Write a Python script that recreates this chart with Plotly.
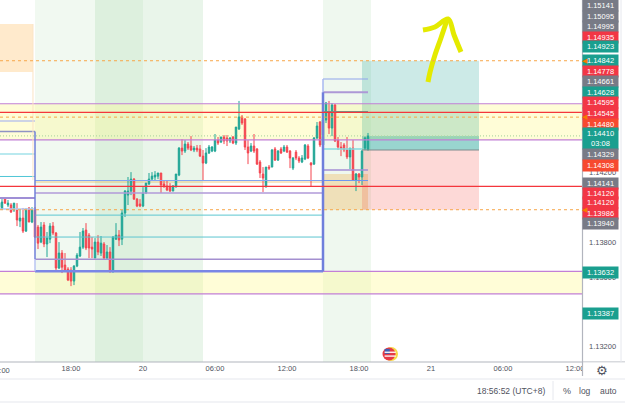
import plotly.graph_objects as go

# 15-minute bars; hours are counted from 00:00 on the 19th
bar_hours = [12 + 0.25 * i for i in range(124)]
opens = [1.14001,1.13990,1.14053,1.14013,1.14013,1.13984,1.13984,1.13921,1.13938,1.13863,1.13996,1.13915,1.13984,1.13886,1.13800,1.13898,1.13789,1.13817,1.13892,1.13852,
1.13651,1.13737,1.13668,1.13645,1.13639,1.13576,1.13662,1.13720,1.13771,1.13869,1.13840,1.13771,1.13708,1.13800,1.13737,1.13789,1.13708,1.13743,1.13628,1.13817,
1.13840,1.13817,1.13967,1.14070,1.14093,1.14162,1.14047,1.14019,1.14007,1.14082,1.14134,1.14162,1.14174,1.14179,1.14197,1.14134,1.14122,1.14116,1.14093,1.14116,
1.14185,1.14340,1.14323,1.14363,1.14352,1.14329,1.14340,1.14335,1.14294,1.14254,1.14312,1.14323,1.14323,1.14386,1.14375,1.14404,1.14398,1.14381,1.14404,1.14369,
1.14450,1.14519,1.14507,1.14346,1.14323,1.14352,1.14335,1.14260,1.14191,1.14116,1.14231,1.14231,1.14335,1.14271,1.14335,1.14323,1.14346,1.14323,1.14225,1.14317,
1.14283,1.14260,1.14277,1.14352,1.14254,1.14248,1.14398,1.14490,1.14358,1.14501,1.14547,1.14455,1.14588,1.14386,1.14346,1.14358,1.14329,1.14289,1.14340,1.14156,
1.14191,1.14174,1.14340,1.14329]
highs = [1.14042,1.14047,1.14059,1.14042,1.14024,1.14024,1.14024,1.13984,1.13996,1.13996,1.14001,1.14001,1.14001,1.13898,1.13915,1.13915,1.13858,1.13909,1.13915,1.13858,
1.13800,1.13754,1.13737,1.13656,1.13656,1.13668,1.13737,1.13858,1.13881,1.13909,1.13852,1.13829,1.13823,1.13840,1.13835,1.13800,1.13783,1.13771,1.13835,1.13909,
1.13869,1.13984,1.14099,1.14174,1.14202,1.14168,1.14053,1.14047,1.14116,1.14139,1.14197,1.14202,1.14208,1.14197,1.14197,1.14156,1.14151,1.14139,1.14128,1.14191,
1.14346,1.14392,1.14386,1.14375,1.14409,1.14352,1.14358,1.14358,1.14329,1.14340,1.14358,1.14352,1.14421,1.14404,1.14404,1.14415,1.14415,1.14404,1.14409,1.14461,
1.14611,1.14530,1.14513,1.14386,1.14369,1.14421,1.14340,1.14271,1.14231,1.14231,1.14243,1.14335,1.14346,1.14329,1.14346,1.14358,1.14358,1.14329,1.14289,1.14329,
1.14294,1.14300,1.14363,1.14363,1.14260,1.14404,1.14490,1.14496,1.14507,1.14605,1.14611,1.14599,1.14593,1.14404,1.14375,1.14369,1.14404,1.14340,1.14386,1.14197,
1.14197,1.14329,1.14404,1.14427]
lows = [1.13996,1.13984,1.14019,1.14001,1.13967,1.13973,1.13892,1.13886,1.13852,1.13858,1.13915,1.13909,1.13823,1.13760,1.13794,1.13771,1.13714,1.13794,1.13840,1.13639,
1.13645,1.13622,1.13628,1.13576,1.13547,1.13553,1.13656,1.13714,1.13760,1.13754,1.13708,1.13708,1.13708,1.13725,1.13720,1.13702,1.13702,1.13628,1.13628,1.13812,
1.13777,1.13783,1.13944,1.14013,1.14070,1.14042,1.14001,1.14001,1.14001,1.14076,1.14128,1.14151,1.14156,1.14162,1.14082,1.14111,1.14093,1.14088,1.14093,1.14116,
1.14179,1.14300,1.14312,1.14329,1.14323,1.14317,1.14317,1.14289,1.14156,1.14248,1.14306,1.14317,1.14317,1.14358,1.14369,1.14363,1.14352,1.14369,1.14363,1.14358,
1.14444,1.14473,1.14329,1.14248,1.14317,1.14312,1.14243,1.14168,1.14088,1.14116,1.14214,1.14231,1.14266,1.14266,1.14306,1.14317,1.14312,1.14225,1.14214,1.14271,
1.14254,1.14254,1.14271,1.14277,1.14122,1.14243,1.14392,1.14346,1.14352,1.14484,1.14421,1.14409,1.14375,1.14329,1.14294,1.14317,1.14277,1.14220,1.14156,1.14093,
1.14139,1.14128,1.14329,1.14329]
closes = [1.14024,1.14030,1.14024,1.14024,1.13973,1.14024,1.13927,1.13938,1.13863,1.13984,1.13915,1.13984,1.13829,1.13794,1.13886,1.13789,1.13823,1.13892,1.13852,1.13651,
1.13737,1.13656,1.13633,1.13582,1.13576,1.13662,1.13725,1.13771,1.13863,1.13766,1.13766,1.13760,1.13800,1.13743,1.13794,1.13708,1.13743,1.13628,1.13829,1.13840,
1.13812,1.13967,1.14093,1.14093,1.14162,1.14047,1.14007,1.14007,1.14082,1.14139,1.14162,1.14179,1.14185,1.14197,1.14128,1.14122,1.14099,1.14093,1.14122,1.14191,
1.14340,1.14323,1.14363,1.14340,1.14329,1.14340,1.14329,1.14294,1.14254,1.14312,1.14346,1.14346,1.14386,1.14369,1.14404,1.14381,1.14381,1.14398,1.14369,1.14461,
1.14519,1.14484,1.14346,1.14312,1.14352,1.14323,1.14248,1.14197,1.14168,1.14231,1.14225,1.14329,1.14271,1.14323,1.14312,1.14346,1.14317,1.14283,1.14283,1.14283,
1.14266,1.14283,1.14358,1.14283,1.14243,1.14398,1.14467,1.14358,1.14501,1.14599,1.14455,1.14588,1.14381,1.14346,1.14340,1.14329,1.14289,1.14340,1.14156,1.14191,
1.14174,1.14323,1.14398,1.14410]

# Time axis labels
tick_hours = [18, 24, 30, 36, 42, 48, 54, 60]
tick_labels = ["18:00", "20", "06:00", "12:00", "18:00", "21", "06:00", "12:00"]
price_ticks = [1.132, 1.136, 1.138, 1.142]
price_tick_labels = ["1.13200", "1.13600", "1.13800", "1.14200"]

# Price scale tags
tag_texts = ["1.15141","1.15095","1.14995","1.14935","1.14923","1.14842","1.14778","1.14661","1.14628","1.14595","1.14545",
             "1.14480","1.14410<br>03:08","1.14329","1.14308","1.14141","1.14120","1.14120","1.13986","1.13940","1.13632","1.13387"]
tag_kinds = ["grey","grey","grey","red","teal","teal","red","grey","teal","red","red",
             "orange","teal","grey","orange","grey","red","red","red","grey","teal","teal"]

# Levels: (price, first hour, last hour)
full_red_levels = [1.14545, 1.14120]
dashed_orange_levels = [1.14842, 1.14518, 1.13986]
zone_upper = [1.14595, 1.14387]
zone_lower = [1.13632, 1.13502]
last_price = 1.14410
entry_price = 1.14329
target_price = 1.14842
stop_price = 1.13986
session_spans = [(15, 20, "rgba(76,175,80,0.08)"), (20, 24, "rgba(76,175,80,0.19)"),
                 (24, 29, "rgba(76,175,80,0.12)"), (39, 43, "rgba(76,175,80,0.09)")]
left_levels = [(1.14496, "#bcc4ea", 1.5), (1.14435, "#8f93c4", 1.5), (1.14306, "#b9e9ef", 2),
               (1.14177, "#4fc6d6", 1), (1.14053, "#9f8fd6", 2), (1.13990, "#b4c8f0", 1.5)]
mid_levels = [(1.14154, "#82a4f2", 1.2), (1.14082, "#b09ad8", 1.5), (1.13955, "#5cc6d0", 1),
              (1.13829, "#5cc6d0", 1), (1.13702, "#a48fd0", 1.5), (1.13632, "#7a86e6", 2.5)]
late_levels = [(1.14737, "#8fa4ec", 1.2, 42.75), (1.14661, "#ad98d6", 2, 42.75), (1.14550, "#5f9e8f", 1, 42.75),
               (1.14335, "#84dce0", 1.5, 42.25), (1.14214, "#a58ed4", 1.5, 42.75), (1.14154, "#6e96ee", 1.2, 42.75)]

# Hand-drawn arrow
arrow_shaft_hours = [47.75, 47.92, 48.33, 48.83, 49.33]
arrow_shaft_prices = [1.14720, 1.14777, 1.14875, 1.14973, 1.15076]
arrow_head_hours = [47.33, 48.33, 49.42, 49.92, 50.5]
arrow_head_prices = [1.15019, 1.15036, 1.15082, 1.14990, 1.14892]

t_start = 12 + 1 / 12
t_end = t_start + 582 / 12
p_top, p_bottom = 1.15191, 1.13111
PLOT_W, PLOT_H = 582, 362
FONT = "Liberation Sans"
tag_colors = {"grey": "#787b86", "red": "#f23645", "teal": "#1a9f8f", "orange": "#f7492f"}
tag_centres = [6, 16, 27, 37, 47, 61, 72, 82, 92, 102, 113, 124, 138.5, 154, 165, 183, 193, 203, 213, 223, 272, 313]


def px(x):
    return x / PLOT_W


def py(y):
    return 1 - y / PLOT_H


shapes = []


def band(t0, t1, p0, p1, fill):
    shapes.append(dict(type="rect", xref="x", yref="y", x0=t0, x1=t1, y0=p0, y1=p1,
                       fillcolor=fill, line_width=0, layer="below"))


def level(p, t0, t1, color, width=1, dash="solid"):
    shapes.append(dict(type="line", xref="x", yref="y", x0=t0, x1=t1, y0=p, y1=p,
                       line=dict(color=color, width=width, dash=dash), layer="above"))


def upright(t, p0, p1, color, width):
    shapes.append(dict(type="line", xref="x", yref="y", x0=t, x1=t, y0=p0, y1=p1,
                       line=dict(color=color, width=width), layer="above"))


# Session backgrounds and demand / supply zones
for t0, t1, fill in session_spans:
    band(t0, t1, p_bottom, p_top, fill)
band(t_start, t_end, zone_upper[0], zone_upper[1], "rgba(255,249,150,0.38)")
band(t_start, t_end, zone_lower[0], zone_lower[1], "rgba(255,249,150,0.38)")
band(t_start, 14.83, 1.15053, 1.14778, "rgba(255,152,0,0.2)")
band(15, 39, 1.14156, 1.14139, "rgba(240,170,60,0.3)")
band(39, 42.75, 1.14191, 1.13986, "rgba(240,170,60,0.3)")

# Long position box
band(42.25, 52, entry_price, target_price, "rgba(0,150,136,0.2)")
band(42.25, 52, stop_price, entry_price, "rgba(244,67,54,0.2)")
band(42.25, 52, entry_price, last_price, "rgba(0,150,136,0.25)")
level(entry_price, 42.25, 52, "#7f8c8d", 1.2)

# Structure levels
for p in zone_upper + zone_lower:
    level(p, t_start, t_end, "#c27fd6", 1.2)
for p, color, width in left_levels:
    level(p, t_start, 15, color, width)
for p, color, width in mid_levels:
    level(p, 15, 39, color, width)
for p, color, width, t1 in late_levels:
    level(p, 39, t1, color, width)
upright(14.83, 1.15053, 1.14156, "#fbe3c4", 1)
upright(15, 1.14435, 1.13702, "#6f7fd8", 1.5)
upright(15, 1.13702, 1.13632, "#b9c4f2", 1.5)
upright(39, 1.14737, 1.14661, "#a9b8f0", 1.5)
upright(39, 1.14661, 1.13632, "#6f7fdc", 2.5)
for p in full_red_levels:
    level(p, t_start, t_end, "#f4363c", 1.2)
for p in dashed_orange_levels:
    level(p, t_start, t_end, "#f7a648", 1, "3px,3px")
level(last_price, t_start, t_end, "#b5d9a6", 1.2, "1px,2px")

# Panel furniture: axis rules, price scale edge and status bar
for y, color in [(362, "#b2b5be"), (379, "#e6e8ee"), (402, "#e6e8ee")]:
    shapes.append(dict(type="line", xref="paper", yref="paper", x0=0, x1=px(625), y0=py(y), y1=py(y),
                       line=dict(color=color, width=1.2), layer="above"))
shapes.append(dict(type="rect", xref="paper", yref="paper", x0=px(582), x1=px(625), y0=py(362.6), y1=py(378),
                   fillcolor="white", line_width=0, layer="above"))
shapes.append(dict(type="line", xref="paper", yref="paper", x0=px(582.5), x1=px(582.5), y0=py(0), y1=py(376),
                   line=dict(color="#b2b5be", width=1.2), layer="above"))
shapes.append(dict(type="line", xref="paper", yref="paper", x0=px(621), x1=px(621), y0=py(0), y1=py(362),
                   line=dict(color="#e6e8ee", width=1), layer="above"))
shapes.append(dict(type="line", xref="paper", yref="paper", x0=px(553), x1=px(553), y0=py(381), y1=py(400),
                   line=dict(color="#e6e8ee", width=1), layer="above"))

annotations = []
for text, kind, centre in zip(tag_texts, tag_kinds, tag_centres):
    tall = "<br>" in text
    annotations.append(dict(xref="paper", yref="paper", x=px(600.5), y=py(centre), text=text, showarrow=False,
                            xanchor="center", yanchor="middle",
                            width=35, height=21 if tall else 10.5, bgcolor=tag_colors[kind], borderpad=0,
                            font=dict(family=FONT, size=7.5, color="white"), align="center"))
for centre in [61, 117, 210]:
    annotations.append(dict(xref="paper", yref="paper", x=px(585), y=py(centre), text="◀", showarrow=False,
                            xanchor="center", yanchor="middle",
                            font=dict(family="DejaVu Sans", size=7, color="#f57c00"), borderpad=0))


def small_text(x, y, text, size=7.5, color="#50535e", family=FONT):
    annotations.append(dict(xref="paper", yref="paper", x=px(x), y=py(y), text=text, showarrow=False,
                            xanchor="center", yanchor="middle",
                            font=dict(family=family, size=size, color=color), borderpad=0))


small_text(0, 370, "12:00")
small_text(602, 370, "⚙", 13, "#50535e", "DejaVu Sans")
small_text(511, 391, "18:56:52 (UTC+8)", 8.5)
small_text(567, 391, "%", 9)
small_text(585, 391, "log", 8.5)
small_text(608, 391, "auto", 8.5)

fig = go.Figure()
fig.add_trace(go.Candlestick(
    x=bar_hours, open=opens, high=highs, low=lows, close=closes,
    increasing=dict(line=dict(color="#1fa595", width=1), fillcolor="#1fa595"),
    decreasing=dict(line=dict(color="#f4444f", width=1), fillcolor="#f4444f"),
    whiskerwidth=0, showlegend=False, hoverinfo="skip",
))
for hours, prices in [(arrow_shaft_hours, arrow_shaft_prices), (arrow_head_hours, arrow_head_prices)]:
    fig.add_trace(go.Scatter(x=hours, y=prices, mode="lines",
                             line=dict(color="#e4ea00", width=5, shape="spline"),
                             showlegend=False, hoverinfo="skip"))

# Economic calendar marker near the bottom of the pane
fig.add_trace(go.Scatter(x=[44.67], y=[1.13157], mode="markers",
                         marker=dict(size=14, color="#f7d948"), showlegend=False, hoverinfo="skip"))
fig.add_trace(go.Scatter(x=[44.5], y=[1.13157], mode="markers",
                         marker=dict(size=13, color="#e63946"), showlegend=False, hoverinfo="skip"))
fig.add_trace(go.Scatter(x=[44.35], y=[1.13172], mode="markers",
                         marker=dict(size=5, symbol="square", color="#3f5fb5"), showlegend=False, hoverinfo="skip"))
fig.add_trace(go.Scatter(x=[44.6, 44.6], y=[1.13167, 1.13145], mode="markers",
                         marker=dict(size=8, symbol="line-ew", line=dict(color="white", width=1.3)),
                         showlegend=False, hoverinfo="skip"))

fig.update_layout(
    width=625, height=403, autosize=False,
    margin=dict(l=0, r=43, t=0, b=41),
    paper_bgcolor="white", plot_bgcolor="white",
    font=dict(family=FONT, size=7.5, color="#50535e"),
    xaxis=dict(range=[t_start, t_end], rangeslider=dict(visible=False), showgrid=False, zeroline=False,
               tickmode="array", tickvals=tick_hours, ticktext=tick_labels, ticks="", tickangle=0,
               tickfont=dict(family=FONT, size=7.5, color="#50535e"), fixedrange=True),
    yaxis=dict(range=[p_bottom, p_top], side="right", showgrid=False, zeroline=False,
               tickmode="array", tickvals=price_ticks, ticktext=price_tick_labels, ticks="",
               ticklabelstandoff=6, tickfont=dict(family=FONT, size=7.5, color="#50535e"), fixedrange=True),
    shapes=shapes, annotations=annotations,
)

fig.write_html("out.html", config={"displayModeBar": False})
